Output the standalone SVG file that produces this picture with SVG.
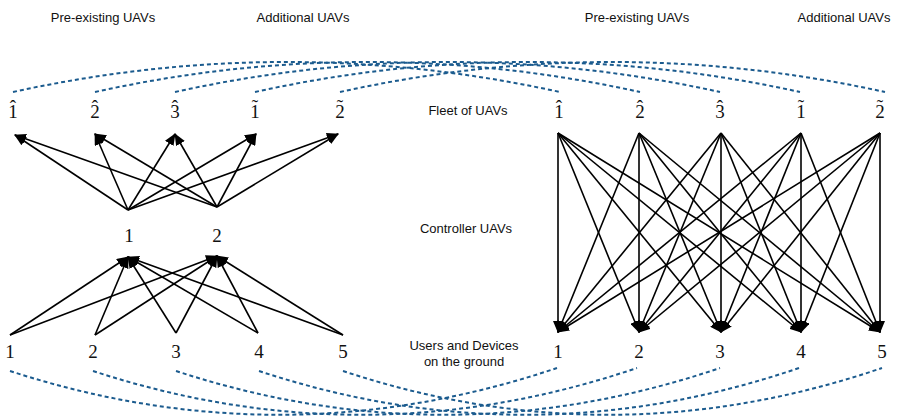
<svg xmlns="http://www.w3.org/2000/svg" width="897" height="418" viewBox="0 0 897 418">
<style>
.lbl{font-family:"Liberation Sans",Arial,sans-serif;font-size:13px;fill:#111;text-anchor:middle}
.num{font-family:"Liberation Serif","Times New Roman",serif;font-size:19px;fill:#111;text-anchor:middle}
.fl{font-family:"Liberation Serif","Times New Roman",serif;font-size:19px;fill:#111;text-anchor:start}
.e{stroke:#000;stroke-width:1.6;fill:none;marker-end:url(#ah)}
.d{stroke:#1b5b8e;stroke-width:2;fill:none;stroke-dasharray:4 3}
</style>
<defs>
<marker id="ah" markerUnits="userSpaceOnUse" markerWidth="12" markerHeight="10" refX="11" refY="5" orient="auto" viewBox="0 0 12 10">
<path d="M0,0 L12,5 L0,10 z" fill="#000"/>
</marker>
</defs>
<rect width="897" height="418" fill="#fff"/>
<g id="headers">
<text class="lbl" x="103" y="22">Pre-existing UAVs</text>
<text class="lbl" x="303" y="22">Additional UAVs</text>
<text class="lbl" x="637" y="22">Pre-existing UAVs</text>
<text class="lbl" x="844" y="22">Additional UAVs</text>
<text class="lbl" x="468" y="115">Fleet of UAVs</text>
<text class="lbl" x="466" y="233">Controller UAVs</text>
<text class="lbl" x="464" y="350">Users and Devices</text>
<text class="lbl" x="464" y="366">on the ground</text>
</g>
<g id="connectors">
<g id="dashed-top">
<path class="d" d="M13,92 Q286,32 560,92"/>
<path class="d" d="M95,92 Q367,32 640,92"/>
<path class="d" d="M175,92 Q447,32 720,92"/>
<path class="d" d="M255,92 Q527,32 800,92"/>
<path class="d" d="M340,92 Q612,32 885,92"/>
</g>
<g id="dashed-bottom">
<path class="d" d="M10,371 Q283,460 557,368"/>
<path class="d" d="M93,371 Q365,460 637,368"/>
<path class="d" d="M176,371 Q448,460 720,368"/>
<path class="d" d="M259,371 Q529,460 799,368"/>
<path class="d" d="M343,371 Q612,460 882,368"/>
</g>
<g id="left-upper">
<path class="e" d="M128,210 L15,135"/>
<path class="e" d="M128,210 L95,134"/>
<path class="e" d="M128,210 L175,134"/>
<path class="e" d="M128,210 L256,134"/>
<path class="e" d="M128,210 L338,134"/>
<path class="e" d="M217,207 L15,135"/>
<path class="e" d="M217,207 L95,134"/>
<path class="e" d="M217,207 L175,134"/>
<path class="e" d="M217,207 L256,134"/>
<path class="e" d="M217,207 L338,134"/>
</g>
<g id="left-lower">
<path class="e" d="M10,335 L128,257"/>
<path class="e" d="M95,335 L128,257"/>
<path class="e" d="M176,333 L128,257"/>
<path class="e" d="M258,333 L128,257"/>
<path class="e" d="M343,335 L128,257"/>
<path class="e" d="M10,335 L217,256"/>
<path class="e" d="M95,335 L217,256"/>
<path class="e" d="M176,333 L217,256"/>
<path class="e" d="M258,333 L217,256"/>
<path class="e" d="M343,335 L217,256"/>
</g>
<g id="right-full">
<path class="e" d="M558,133 L558,332"/>
<path class="e" d="M558,133 L639,332"/>
<path class="e" d="M558,133 L721,332"/>
<path class="e" d="M558,133 L801,332"/>
<path class="e" d="M558,133 L880,332"/>
<path class="e" d="M639,133 L558,332"/>
<path class="e" d="M639,133 L639,332"/>
<path class="e" d="M639,133 L721,332"/>
<path class="e" d="M639,133 L801,332"/>
<path class="e" d="M639,133 L880,332"/>
<path class="e" d="M721,133 L558,332"/>
<path class="e" d="M721,133 L639,332"/>
<path class="e" d="M721,133 L721,332"/>
<path class="e" d="M721,133 L801,332"/>
<path class="e" d="M721,133 L880,332"/>
<path class="e" d="M801,133 L558,332"/>
<path class="e" d="M801,133 L639,332"/>
<path class="e" d="M801,133 L721,332"/>
<path class="e" d="M801,133 L801,332"/>
<path class="e" d="M801,133 L880,332"/>
<path class="e" d="M880,133 L558,332"/>
<path class="e" d="M880,133 L639,332"/>
<path class="e" d="M880,133 L721,332"/>
<path class="e" d="M880,133 L801,332"/>
<path class="e" d="M880,133 L880,332"/>
</g>
</g>
<g id="L-fleet-h1"><text class="fl" x="8.25" y="118">1<tspan dx="-7.92" dy="-5">ˆ</tspan></text></g>
<g id="L-fleet-h2"><text class="fl" x="90.25" y="118">2<tspan dx="-7.92" dy="-5">ˆ</tspan></text></g>
<g id="L-fleet-h3"><text class="fl" x="170.25" y="118">3<tspan dx="-7.92" dy="-5">ˆ</tspan></text></g>
<g id="L-fleet-t1"><text class="fl" x="250.25" y="118">1<tspan dx="-7.92" dy="-5">˜</tspan></text></g>
<g id="L-fleet-t2"><text class="fl" x="335.25" y="118">2<tspan dx="-7.92" dy="-5">˜</tspan></text></g>
<g id="L-ctrl-1"><text class="num" x="129" y="242">1</text></g>
<g id="L-ctrl-2"><text class="num" x="217" y="242">2</text></g>
<g id="L-ground-1"><text class="num" x="10" y="358">1</text></g>
<g id="L-ground-2"><text class="num" x="93" y="358">2</text></g>
<g id="L-ground-3"><text class="num" x="176" y="358">3</text></g>
<g id="L-ground-4"><text class="num" x="259" y="358">4</text></g>
<g id="L-ground-5"><text class="num" x="343" y="358">5</text></g>
<g id="R-fleet-h1"><text class="fl" x="554.25" y="118">1<tspan dx="-7.92" dy="-5">ˆ</tspan></text></g>
<g id="R-fleet-h2"><text class="fl" x="635.25" y="118">2<tspan dx="-7.92" dy="-5">ˆ</tspan></text></g>
<g id="R-fleet-h3"><text class="fl" x="715.25" y="118">3<tspan dx="-7.92" dy="-5">ˆ</tspan></text></g>
<g id="R-fleet-t1"><text class="fl" x="796.25" y="118">1<tspan dx="-7.92" dy="-5">˜</tspan></text></g>
<g id="R-fleet-t2"><text class="fl" x="875.25" y="118">2<tspan dx="-7.92" dy="-5">˜</tspan></text></g>
<g id="R-ground-1"><text class="num" x="558" y="358">1</text></g>
<g id="R-ground-2"><text class="num" x="639" y="358">2</text></g>
<g id="R-ground-3"><text class="num" x="720" y="358">3</text></g>
<g id="R-ground-4"><text class="num" x="801" y="358">4</text></g>
<g id="R-ground-5"><text class="num" x="882" y="358">5</text></g>
</svg>
